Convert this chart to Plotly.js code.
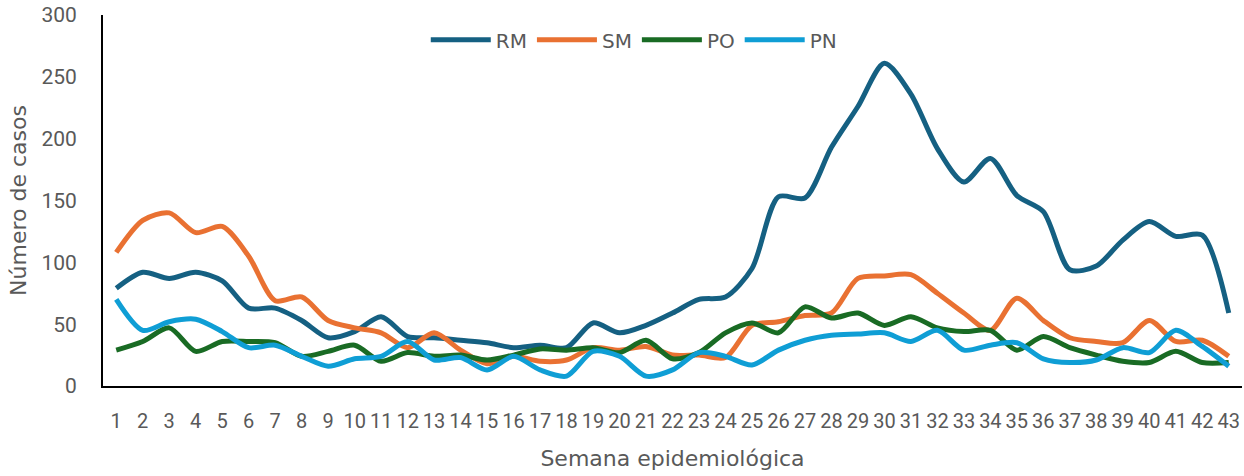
<!DOCTYPE html>
<html>
<head>
<meta charset="utf-8">
<script src="https://cdn.plot.ly/plotly-3.0.1.min.js"></script>
<style>
  html, body { margin: 0; padding: 0; background: #ffffff; }
  #chart { width: 1244px; height: 476px; }
</style>
</head>
<body>
<div id="chart"></div>
<script>
const weeks = Array.from({length: 43}, (_, i) => String(i + 1));

const RM = [79, 92, 87, 92, 85, 63, 63, 53, 39, 44, 56, 40, 39, 37, 35, 31, 33, 31, 51, 43, 49, 59, 70, 72, 95, 153, 152, 193, 226, 261, 236, 192, 165, 184, 154, 141, 94, 97, 118, 133, 121, 122, 59];
const SM = [108, 134, 140, 124, 129, 105, 69, 72, 53, 47, 43, 31, 43, 29, 18, 24, 20, 21, 31, 29, 32, 25, 25, 23, 49, 52, 57, 59, 87, 89, 90, 75, 59, 45, 71, 53, 39, 36, 35, 53, 36, 37, 24];
const PO = [29, 36, 47, 28, 36, 36, 35, 24, 28, 33, 20, 27, 24, 25, 21, 25, 30, 29, 31, 27, 37, 22, 27, 43, 51, 43, 64, 55, 59, 49, 56, 47, 44, 45, 29, 40, 31, 25, 20, 19, 28, 19, 19];
const PN = [70, 45, 52, 54, 44, 31, 33, 24, 16, 22, 24, 36, 21, 23, 13, 24, 13, 8, 28, 24, 8, 13, 27, 24, 17, 29, 37, 41, 42, 43, 36, 45, 29, 33, 35, 22, 19, 21, 31, 27, 45, 32, 16];

const seriesNames = ['RM', 'SM', 'PO', 'PN'];
const seriesData = [RM, SM, PO, PN];
const colors = ['#156082', '#E97132', '#196B24', '#0F9ED5'];

const traces = seriesNames.map((name, i) => ({
  x: weeks,
  y: seriesData[i],
  name: name,
  type: 'scatter',
  mode: 'lines',
  line: { color: colors[i], width: 5, shape: 'spline', smoothing: 0.8 },
  hoverinfo: 'x+y+name'
}));

const TITLE_FONT = '"DejaVu Sans", sans-serif';
const TICK_FONT = 'Roboto, sans-serif';

const layout = {
  width: 1244,
  height: 476,
  margin: { l: 103, r: 2, t: 15, b: 90 },
  paper_bgcolor: '#ffffff',
  plot_bgcolor: '#ffffff',
  font: { family: TITLE_FONT, color: '#595959', size: 20 },
  showlegend: true,
  legend: {
    orientation: 'h',
    x: 0.466, xanchor: 'center',
    y: 0.933, yanchor: 'middle',
    font: { family: TITLE_FONT, size: 20, color: '#595959' },
    bgcolor: 'rgba(0,0,0,0)',
    itemwidth: 60
  },
  xaxis: {
    type: 'category',
    range: [-0.5, 42.5],
    showgrid: false,
    zeroline: false,
    showline: true,
    linecolor: '#000000',
    linewidth: 2,
    ticks: '',
    ticklabelstandoff: 16,
    tickfont: { family: TICK_FONT, size: 20, color: '#595959' },
    tickangle: 0,
    title: { text: 'Semana epidemiológica', font: { family: TITLE_FONT, size: 22, color: '#595959' }, standoff: 19 },
    fixedrange: true
  },
  yaxis: {
    range: [0, 300],
    tickvals: [0, 50, 100, 150, 200, 250, 300],
    showgrid: false,
    zeroline: false,
    showline: true,
    linecolor: '#000000',
    linewidth: 2,
    ticks: '',
    ticklabelstandoff: 20,
    tickfont: { family: TICK_FONT, size: 21, color: '#595959' },
    title: { text: 'Número de casos', font: { family: TITLE_FONT, size: 22, color: '#595959' }, standoff: 9 },
    fixedrange: true
  }
};

Plotly.newPlot('chart', traces, layout, { displayModeBar: false, staticPlot: true });
</script>
</body>
</html>
